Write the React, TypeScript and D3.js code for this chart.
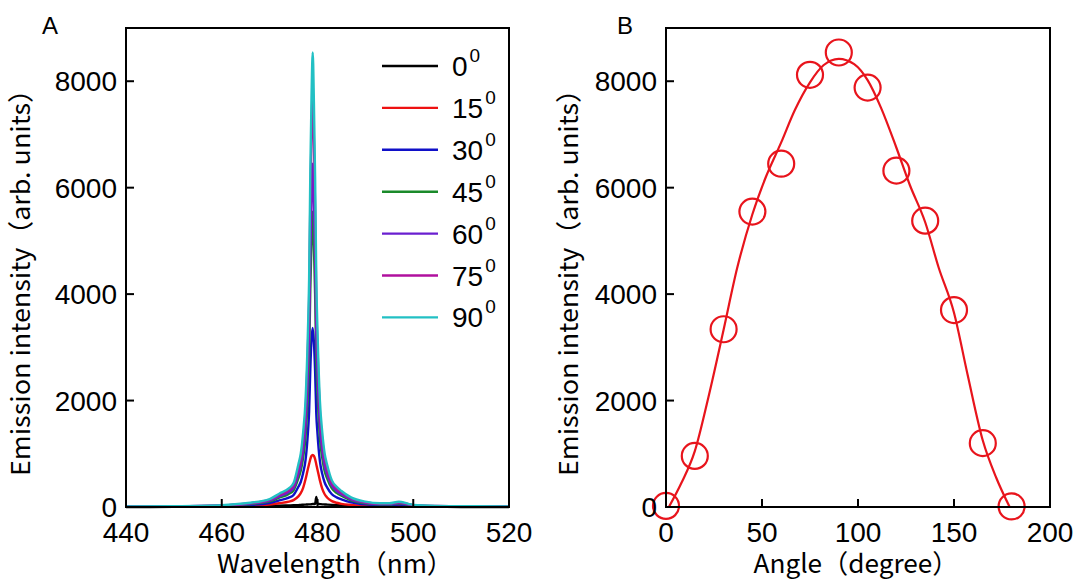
import React from 'react';
import * as d3 from 'd3';

// ---------- Panel A data: emission spectra at different angles ----------
const wavelengths = [440, 450, 460, 465, 470, 472, 474, 475, 476, 476.5, 477, 477.5, 478, 478.25, 478.5, 478.75, 479, 479.25, 479.5, 479.75, 480, 480.5, 481, 481.5, 482, 483, 484, 485, 487, 490, 493, 495, 497, 499, 500, 505, 510, 520];

const spec0 = [0, 2, 5, 10, 20, 25, 30, 32, 36, 40, 42, 45, 48, 50, 50, 52, 55, 55, 60, 190, 60, 55, 50, 48, 45, 40, 35, 30, 22, 15, 8, 6, 8, 5, 3, 2, 1, 0];
const spec15 = [3, 5, 10, 20, 45, 70, 100, 130, 200, 260, 360, 520, 720, 810, 900, 960, 980, 960, 900, 800, 700, 500, 340, 240, 180, 110, 80, 60, 40, 25, 15, 15, 20, 12, 8, 5, 3, 3];
const spec30 = [5, 8, 18, 36, 75, 125, 175, 225, 380, 470, 640, 880, 1400, 1800, 2600, 3150, 3364, 3100, 2550, 1750, 1380, 860, 620, 460, 370, 240, 180, 145, 90, 50, 35, 35, 45, 30, 20, 10, 7, 5];
const spec45 = [7, 10, 25, 50, 105, 175, 245, 315, 540, 680, 930, 1320, 2150, 2800, 4100, 5000, 5550, 4900, 4000, 2750, 2150, 1300, 920, 670, 540, 350, 265, 210, 125, 70, 50, 50, 65, 42, 28, 14, 10, 7];
const spec60 = [8, 12, 28, 56, 120, 200, 280, 360, 620, 780, 1080, 1530, 2500, 3250, 4750, 5800, 6450, 5700, 4650, 3200, 2500, 1510, 1060, 770, 620, 400, 300, 240, 145, 80, 55, 55, 75, 48, 30, 16, 12, 8];
const spec75 = [9, 13, 30, 62, 135, 225, 315, 405, 720, 900, 1260, 1800, 3000, 3900, 5700, 7000, 7800, 6900, 5600, 3850, 3000, 1800, 1260, 900, 720, 450, 340, 270, 160, 90, 60, 60, 85, 55, 35, 18, 13, 9];
const spec90 = [10, 15, 35, 70, 150, 250, 350, 450, 800, 1000, 1400, 2000, 3300, 4300, 6300, 7700, 8540, 7600, 6200, 4270, 3300, 2000, 1400, 1000, 800, 500, 380, 300, 180, 100, 70, 70, 100, 60, 40, 20, 15, 10];

const legendAngles = ['0', '15', '30', '45', '60', '75', '90'];
const spectra = [spec0, spec15, spec30, spec45, spec60, spec75, spec90];
const seriesColors = ['#000000', '#ee1111', '#1010c8', '#1a8a2a', '#6a1fd0', '#b0109e', '#22c0c4'];

const xTicksA = [440, 460, 480, 500, 520];
const yTicks = [0, 2000, 4000, 6000, 8000];

// ---------- Panel B data: intensity vs angle ----------
const pointAngles = [0, 15, 30, 45, 60, 75, 90, 105, 120, 135, 150, 165, 180];
const pointValues = [20, 960, 3340, 5550, 6450, 8120, 8540, 7880, 6320, 5380, 3700, 1200, 10];

const fitAngles = [1.5, 8, 15, 22, 30, 37, 45, 52, 60, 67, 75, 82, 90, 98, 105, 112, 120, 127, 135, 142, 150, 157, 165, 172, 179];
const fitValues = [0, 450, 1050, 2050, 3330, 4480, 5500, 6200, 6850, 7450, 7980, 8300, 8420, 8320, 8020, 7500, 6750, 6050, 5350, 4500, 3650, 2500, 1250, 550, 0];

const xTicksB = [0, 50, 100, 150, 200];

const W = 1078;
const H = 581;
const TOP = 28;
const BOTTOM = 507;
const numFont = '"Liberation Sans", Arial, Helvetica, sans-serif';
const titleFont = '"Noto Sans CJK JP", "Noto Sans", sans-serif';
const TICK = 8;

export default function App() {
  const xA = d3.scaleLinear().domain([440, 520]).range([126, 509]);
  const xB = d3.scaleLinear().domain([0, 200]).range([666, 1050]);
  const y = d3.scaleLinear().domain([0, 9000]).range([BOTTOM, TOP]);

  const specLine = (vals: number[]) =>
    d3
      .line<number>()
      .x((_, i) => xA(wavelengths[i]))
      .y((v) => y(v))
      .curve(d3.curveMonotoneX)(vals) as string;

  const fitLine = d3
    .line<number>()
    .x((_, i) => xB(fitAngles[i]))
    .y((v) => y(v))
    .curve(d3.curveMonotoneX)(fitValues) as string;

  const legendY = (i: number) => 66 + 41.9 * i;

  const frame = (x0: number, x1: number) => (
    <rect x={x0} y={TOP} width={x1 - x0} height={BOTTOM - TOP} fill="none" stroke="#000" strokeWidth={2} />
  );

  const yAxis = (x0: number) => (
    <g>
      {yTicks.map((t) => (
        <g key={t}>
          <line x1={x0} x2={x0 + TICK} y1={y(t)} y2={y(t)} stroke="#000" strokeWidth={2} />
          <text x={x0 - 9} y={y(t) + 10} textAnchor="end" fontFamily={numFont} fontSize={28} fill="#000">
            {t}
          </text>
        </g>
      ))}
    </g>
  );

  return (
    <svg width={W} height={H} style={{ position: 'absolute', left: 0, top: 0, background: '#fff' }}>
      <rect x={0} y={0} width={W} height={H} fill="#fff" />

      {/* ---------- Panel A ---------- */}
      <text x={42} y={34} fontFamily={numFont} fontSize={24} fill="#000">A</text>
      <g>
        {spectra.map((s, i) => (
          <path key={i} d={specLine(s)} fill="none" stroke={seriesColors[i]} strokeWidth={2.4} strokeLinejoin="round" />
        ))}
      </g>
      {frame(126, 509)}
      {yAxis(126)}
      {xTicksA.map((t) => (
        <g key={t}>
          <line x1={xA(t)} x2={xA(t)} y1={BOTTOM} y2={BOTTOM - TICK} stroke="#000" strokeWidth={2} />
          <text x={xA(t)} y={542} textAnchor="middle" fontFamily={numFont} fontSize={28} fill="#000">
            {t}
          </text>
        </g>
      ))}
      <text x={335} y={573} textAnchor="middle" fontFamily={titleFont} fontSize={26} textLength={236} lengthAdjust="spacingAndGlyphs" fill="#000">
        Wavelength（nm）
      </text>
      <text
        transform={`translate(30,${276}) rotate(-90)`}
        textAnchor="middle"
        fontFamily={titleFont}
        fontSize={26}
        textLength={400}
        lengthAdjust="spacingAndGlyphs"
        fill="#000"
      >
        Emission intensity（arb. units）
      </text>

      {/* legend */}
      {legendAngles.map((a, i) => (
        <g key={a}>
          <line x1={382} x2={438} y1={legendY(i)} y2={legendY(i)} stroke={seriesColors[i]} strokeWidth={2.4} />
          <text x={452} y={legendY(i) + 10} fontFamily={numFont} fontSize={28} fill="#000">
            {a}
            <tspan dx={2} dy={-14} fontSize={19}>0</tspan>
          </text>
        </g>
      ))}

      {/* ---------- Panel B ---------- */}
      <text x={617} y={34} fontFamily={numFont} fontSize={24} fill="#000">B</text>
      <path d={fitLine} fill="none" stroke="#e8141c" strokeWidth={2.2} />
      {pointAngles.map((a, i) => (
        <circle key={a} cx={xB(a)} cy={y(pointValues[i])} r={13} fill="none" stroke="#e8141c" strokeWidth={2.2} />
      ))}
      {frame(666, 1050)}
      {yAxis(666)}
      {xTicksB.map((t) => (
        <g key={t}>
          <line x1={xB(t)} x2={xB(t)} y1={BOTTOM} y2={BOTTOM - TICK} stroke="#000" strokeWidth={2} />
          <text x={xB(t)} y={542} textAnchor="middle" fontFamily={numFont} fontSize={28} fill="#000">
            {t}
          </text>
        </g>
      ))}
      <text x={856} y={573} textAnchor="middle" fontFamily={titleFont} fontSize={26} textLength={205} lengthAdjust="spacingAndGlyphs" fill="#000">
        Angle（degree）
      </text>
      <text
        transform={`translate(578,${276}) rotate(-90)`}
        textAnchor="middle"
        fontFamily={titleFont}
        fontSize={26}
        textLength={400}
        lengthAdjust="spacingAndGlyphs"
        fill="#000"
      >
        Emission intensity（arb. units）
      </text>
    </svg>
  );
}
